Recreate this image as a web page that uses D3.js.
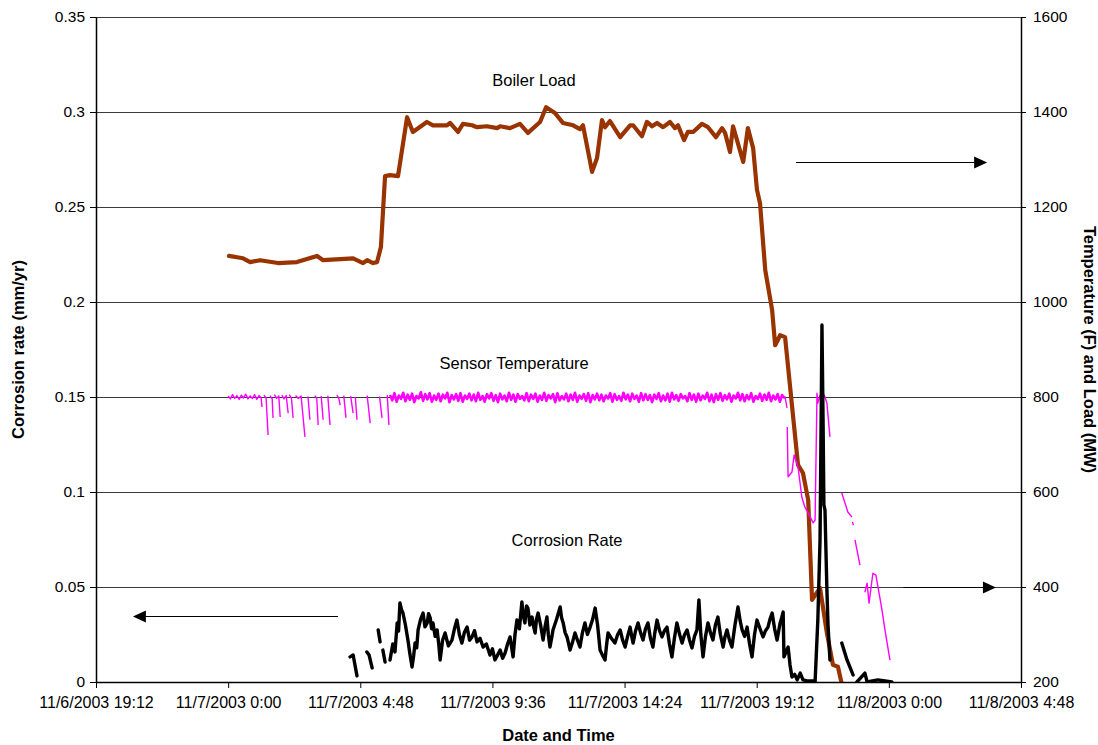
<!DOCTYPE html>
<html>
<head>
<meta charset="utf-8">
<script src="https://cdn.jsdelivr.net/npm/d3@7"></script>
<style>
  body { margin: 0; background: #fff; }
  svg { display: block; }
  text { font-family: "Liberation Sans", Arial, sans-serif; fill: #000; }
</style>
</head>
<body>
<svg id="chart" width="1098" height="745"></svg>
<script>
// All times are hours elapsed since 11/7/2003 0:00.
const xTickLabels = ["11/6/2003 19:12", "11/7/2003 0:00", "11/7/2003 4:48", "11/7/2003 9:36",
                     "11/7/2003 14:24", "11/7/2003 19:12", "11/8/2003 0:00", "11/8/2003 4:48"];
const corrosionTicks = [0, 0.05, 0.1, 0.15, 0.2, 0.25, 0.3, 0.35];
const tempLoadTicks = [200, 400, 600, 800, 1000, 1200, 1400, 1600];

// Boiler load (MW): [hour, value]
const boilerLoad = [
  [0.03,1097],[0.54,1092],[0.80,1084],[1.16,1088],[1.81,1082],[2.50,1084],[3.23,1097],[3.45,1088],
  [4.54,1092],[4.90,1082],[5.05,1088],[5.26,1082],[5.41,1084],[5.55,1116],[5.70,1265],[5.88,1267],
  [6.17,1265],[6.50,1389],[6.71,1358],[7.22,1379],[7.44,1372],[7.95,1372],[8.06,1377],[8.35,1358],
  [8.53,1375],[8.86,1372],[9.04,1368],[9.40,1370],[9.77,1366],[9.88,1370],[10.24,1366],[10.60,1375],
  [10.89,1356],[11.33,1379],[11.55,1410],[11.87,1398],[12.16,1377],[12.53,1372],[12.78,1364],[12.89,1372],
  [13.22,1274],[13.40,1303],[13.58,1383],[13.69,1368],[13.87,1381],[14.24,1347],[14.60,1372],[14.71,1372],
  [15.03,1349],[15.21,1379],[15.40,1370],[15.58,1377],[15.80,1368],[16.05,1379],[16.23,1366],[16.34,1372],
  [16.56,1341],[16.70,1358],[16.89,1358],[17.21,1375],[17.43,1368],[17.72,1347],[17.94,1366],[18.05,1356],
  [18.23,1316],[18.34,1370],[18.71,1295],[18.88,1366],[19.07,1324],[19.21,1236],[19.32,1208],[19.51,1067],
  [19.76,983],[19.87,909],[20.05,930],[20.23,926],[20.70,657],[20.88,640],[21.07,583],[21.21,373],
  [21.50,398],[21.75,303],[21.97,236],[22.15,232],[22.34,183]
];

// Corrosion rate (mm/yr): [hour, value]; null marks a gap in the record
const corrosionRate = [
  [4.43,0.0132],[4.54,0.0142],[4.68,0.0032], null,
  [5.04,0.0158],[5.12,0.0142],[5.23,0.0074], null,
  [5.45,0.0274],[5.52,0.0211], null,
  [5.62,0.0168],[5.70,0.0105], null,
  [5.88,0.0116],[5.98,0.0200],[6.06,0.0158],[6.14,0.0311],[6.19,0.0268],[6.24,0.0416],[6.30,0.0380],
  [6.35,0.0363],[6.44,0.0300],[6.53,0.0221],[6.60,0.0150],[6.68,0.0079],[6.74,0.0140],[6.79,0.0205],
  [6.85,0.0180],[6.90,0.0274],[6.99,0.0330],[7.08,0.0363],[7.15,0.0290],[7.23,0.0311],[7.28,0.0360],
  [7.34,0.0337],[7.39,0.0280],[7.44,0.0311],[7.52,0.0240],[7.59,0.0274],[7.65,0.0200],[7.70,0.0116],
  [7.79,0.0220],[7.88,0.0258],[8.00,0.0190],[8.13,0.0221],[8.22,0.0280],[8.31,0.0326],[8.40,0.0250],
  [8.49,0.0205],[8.58,0.0260],[8.68,0.0289],[8.77,0.0220],[8.86,0.0237],[8.95,0.0270],[9.04,0.0211],
  [9.15,0.0230],[9.26,0.0184],[9.38,0.0200],[9.51,0.0142],[9.60,0.0175],[9.69,0.0116],[9.78,0.0140],
  [9.88,0.0168],[9.97,0.0125],[10.06,0.0153],[10.15,0.0200],[10.24,0.0237],[10.30,0.0180],[10.35,0.0132],
  [10.42,0.0250],[10.49,0.0326],[10.58,0.0280],[10.67,0.0421],[10.72,0.0350],[10.78,0.0311],[10.84,0.0400],
  [10.89,0.0389],[10.96,0.0300],[11.04,0.0342],[11.10,0.0290],[11.15,0.0258],[11.20,0.0330],[11.26,0.0363],
  [11.35,0.0300],[11.44,0.0221],[11.51,0.0290],[11.58,0.0342],[11.63,0.0250],[11.69,0.0184],[11.75,0.0230],
  [11.80,0.0274],[11.93,0.0330],[12.06,0.0395],[12.11,0.0340],[12.17,0.0311],[12.24,0.0260],[12.31,0.0237],
  [12.37,0.0200],[12.42,0.0168],[12.51,0.0210],[12.60,0.0258],[12.69,0.0220],[12.78,0.0184],[12.87,0.0260],
  [12.96,0.0311],[13.05,0.0250],[13.15,0.0289],[13.24,0.0330],[13.33,0.0389],[13.42,0.0300],
  [13.51,0.0168],[13.60,0.0140],[13.69,0.0116],[13.75,0.0200],[13.80,0.0258],[13.92,0.0230],[14.05,0.0205],
  [14.15,0.0250],[14.24,0.0274],[14.33,0.0220],[14.42,0.0184],[14.51,0.0240],[14.60,0.0289],[14.66,0.0240],
  [14.71,0.0205],[14.80,0.0270],[14.89,0.0311],[14.98,0.0260],[15.07,0.0221],[15.16,0.0280],[15.25,0.0311],
  [15.34,0.0230],[15.43,0.0184],[15.50,0.0260],[15.58,0.0326],[15.67,0.0270],[15.76,0.0237],[15.85,0.0270],
  [15.94,0.0289],[16.03,0.0200],[16.12,0.0132],[16.21,0.0230],[16.30,0.0311],[16.40,0.0250],[16.49,0.0205],
  [16.58,0.0250],[16.67,0.0274],[16.76,0.0220],[16.85,0.0179],[16.94,0.0240],[17.03,0.0274],[17.10,0.0432],
  [17.17,0.0250],[17.25,0.0132],[17.34,0.0240],[17.43,0.0311],[17.52,0.0260],[17.61,0.0221],[17.70,0.0300],
  [17.79,0.0342],[17.88,0.0250],[17.98,0.0184],[18.05,0.0240],[18.12,0.0274],[18.21,0.0220],[18.30,0.0184],
  [18.41,0.0300],[18.52,0.0395],[18.60,0.0320],[18.67,0.0274],[18.76,0.0240],[18.85,0.0289],[18.94,0.0200],
  [19.03,0.0132],[19.12,0.0250],[19.21,0.0326],[19.32,0.0280],[19.43,0.0237],[19.52,0.0270],[19.61,0.0289],
  [19.68,0.0330],[19.76,0.0363],[19.85,0.0280],[19.94,0.0221],[20.00,0.0270],[20.05,0.0311],[20.11,0.0340],
  [20.16,0.0368],[20.19,0.0132],[20.27,0.0160],[20.34,0.0184],[20.41,0.0090],[20.48,0.0026],[20.58,0.0040],
  [20.67,0.0011],[20.78,0.0047],[20.88,0.0011],[21.07,0.0005],[21.25,0.0005],[21.32,0],
  [21.42,0.0326],[21.50,0.0747],[21.54,0.1379],[21.57,0.1879],[21.61,0.1379],[21.64,0.0932],[21.68,0.0905],
  [21.71,0.0721],[21.75,0.0484],[21.79,0.0300],[21.86,0.0116], null,
  [22.29,0.0205],[22.48,0.0116],[22.70,0.0037], null,
  [22.84,0],[23.13,0.0047],[23.21,0],[23.60,0.0011],[23.86,0.0005],[24.11,0]
];

// Sensor temperature (F), start of record with dropouts: [hour, value]
const sensorEarly = [
  [0.00,802],[0.08,796],[0.16,805],[0.24,797],[0.32,803],[0.40,795],[0.48,804],[0.56,798],[0.64,806],
  [0.72,796],[0.80,802],[0.88,797],[0.96,805],[1.04,795],[1.12,803],[1.20,798],[1.23,779], null,
  [1.30,804],[1.38,797],[1.45,720], null,
  [1.52,803],[1.60,796],[1.63,756], null,
  [1.68,805],[1.76,797],[1.84,802],[1.89,758], null,
  [1.95,804],[2.03,796],[2.11,803],[2.18,766], null,
  [2.22,805],[2.30,797],[2.36,756], null,
  [2.45,803],[2.55,797],[2.65,802],[2.79,716], null,
  [2.90,801],[2.97,752], null,
  [3.15,803],[3.22,797],[3.27,741], null,
  [3.38,802],[3.45,752], null,
  [3.62,803],[3.70,741], null,
  [3.95,804],[4.02,797],[4.07,783], null,
  [4.20,803],[4.28,756], null,
  [4.45,802],[4.54,766], null,
  [4.62,800],[4.68,752], null,
  [5.05,803],[5.16,745], null,
  [5.50,801],[5.59,756], null,
  [5.78,804],[5.84,741], null
];

// Sensor temperature (F), steady record logged every 0.08 h from 5.88 h
const sensorSteadyStart = 5.88;
const sensorSteadyStep = 0.08;
const sensorSteady = [
  804,793,808,790,803,796,809,791,805,794,807,789,802,797,810,792,806,795,808,790,
  803,794,807,791,805,797,809,789,804,795,806,792,808,790,803,796,807,793,805,791,
  809,794,802,790,806,797,808,792,804,789,807,795,803,791,809,794,805,790,806,796,
  802,793,808,791,805,796,807,790,803,794,809,792,804,797,806,789,808,793,802,795,
  807,791,805,794,809,790,803,796,806,792,808,789,804,795,807,793,805,791,803,797,
  808,790,806,794,802,792,809,795,805,791,807,796,803,790,808,793,806,794,804,789,
  805,796,808,791,803,793,807,790,809,795,804,792,806,797,802,791,808,794,805,790,
  807,793,803,796,809,791,805,789,806,794,808,792,804,795,807,790,803,797,809,793,
  806,791,804,795,808,790,802,796,807,792,805,794,809,791,803,795,806,790,804,798
];

// Sensor temperature (F) during the shutdown: [hour, value]
const sensorShutdown = [
  [20.23,800],[20.30,777], null,
  [20.31,737],[20.34,632],[20.48,642],[20.56,678],[20.70,653],[20.84,589],[20.95,568],[21.07,556],
  [21.25,535],[21.32,541],[21.39,808],[21.42,787],[21.50,804],[21.57,795],[21.63,806],[21.68,800],
  [21.75,787],[21.86,716], null,
  [22.29,598],[22.51,558],[22.66,547], null,
  [22.68,537],[22.71,530], null,
  [22.77,499],[22.95,446], null,
  [23.13,389],[23.21,408],[23.28,366],[23.42,429],[23.53,425],[23.75,352],[23.86,309],[24.04,246]
];

const baseTime = new Date(2003, 10, 7, 0, 0);
const parseTick = d3.timeParse("%m/%d/%Y %H:%M");
const atHour = h => new Date(baseTime.getTime() + h * 3600e3);
const toPoint = d => d ? { t: atHour(d[0]), v: d[1] } : null;

const sensorSteadyPts = sensorSteady.map((v, i) => [sensorSteadyStart + i * sensorSteadyStep, v]);
const sensorAll = [...sensorEarly, ...sensorSteadyPts, ...sensorShutdown].map(toPoint);

const svg = d3.select("#chart");
const margin = { left: 96, right: 77, top: 17, bottom: 63 };
const W = 1098, H = 745;
const x0 = margin.left, x1 = W - margin.right, y0 = H - margin.bottom, y1 = margin.top;

const xTicks = xTickLabels.map(parseTick);
const x = d3.scaleTime().domain([xTicks[0], xTicks[xTicks.length - 1]]).range([x0, x1]);
const yL = d3.scaleLinear().domain([0, 0.35]).range([y0, y1]);
const yR = d3.scaleLinear().domain([200, 1600]).range([y0, y1]);

svg.append("defs").append("clipPath").attr("id", "plot")
  .append("rect").attr("x", x0).attr("y", y1 - 5).attr("width", x1 - x0).attr("height", y0 - y1 + 5);

// horizontal gridlines
svg.append("g").selectAll("line").data(corrosionTicks).join("line")
  .attr("x1", x0).attr("x2", x1)
  .attr("y1", d => Math.round(yL(d)) + 0.5).attr("y2", d => Math.round(yL(d)) + 0.5)
  .attr("stroke", "#3a3a3a").attr("stroke-width", 1);

const plot = svg.append("g").attr("clip-path", "url(#plot)");

const lineL = d3.line().defined(d => d).x(d => x(d.t)).y(d => yL(d.v));
const lineR = d3.line().defined(d => d).x(d => x(d.t)).y(d => yR(d.v));

plot.append("path").datum(boilerLoad.map(toPoint))
  .attr("d", lineR).attr("fill", "none").attr("stroke", "#993300")
  .attr("stroke-width", 4.2).attr("stroke-linejoin", "round").attr("stroke-linecap", "round");

// temperature: thin trace for the whole record, heavier where the sensor chatters at 800 F
plot.append("path").datum(sensorAll)
  .attr("d", lineR).attr("fill", "none").attr("stroke", "#ff00ff")
  .attr("stroke-width", 1.4).attr("stroke-linejoin", "round");
plot.append("path").datum(sensorSteadyPts.map(toPoint))
  .attr("d", lineR).attr("fill", "none").attr("stroke", "#ff00ff")
  .attr("stroke-width", 2.6).attr("stroke-linejoin", "round");

plot.append("path").datum(corrosionRate.map(toPoint))
  .attr("d", lineL).attr("fill", "none").attr("stroke", "#000")
  .attr("stroke-width", 3.4).attr("stroke-linejoin", "round").attr("stroke-linecap", "round");

// axes
const tickFont = size => g => g.selectAll("text").style("font-size", size)
  .style("font-family", '"Liberation Sans", Arial, sans-serif');
const axisStyle = g => { g.select(".domain").attr("stroke", "#000").attr("stroke-width", 1.5);
                         g.selectAll(".tick line").attr("stroke", "#000"); };

svg.append("g").attr("transform", `translate(${x0},0)`)
  .call(d3.axisLeft(yL).tickValues(corrosionTicks).tickFormat(d => String(d))
        .tickSize(6).tickSizeOuter(0).tickPadding(5))
  .call(tickFont("15.5px")).call(axisStyle);

svg.append("g").attr("transform", `translate(${x1},0)`)
  .call(d3.axisRight(yR).tickValues(tempLoadTicks).tickFormat(d => String(d))
        .tickSize(5).tickSizeOuter(0).tickPadding(7))
  .call(tickFont("15.5px")).call(axisStyle);

svg.append("g").attr("transform", `translate(0,${y0})`)
  .call(d3.axisBottom(x).tickValues(xTicks).tickFormat((d, i) => xTickLabels[i])
        .tickSize(6).tickSizeOuter(0).tickPadding(9))
  .call(tickFont("16px")).call(axisStyle);

// axis titles
svg.append("text").attr("x", (x0 + x1) / 2).attr("y", 741).attr("text-anchor", "middle")
  .style("font-size", "16.5px").style("font-weight", "bold").text("Date and Time");
svg.append("text").attr("transform", `translate(24,${(y0 + y1) / 2}) rotate(-90)`)
  .attr("text-anchor", "middle").style("font-size", "16.5px").style("font-weight", "bold")
  .text("Corrosion rate (mm/yr)");
svg.append("text").attr("transform", `translate(1084,${(y0 + y1) / 2}) rotate(90)`)
  .attr("text-anchor", "middle").style("font-size", "16.5px").style("font-weight", "bold")
  .text("Temperature (F) and Load (MW)");

// series labels
const seriesLabels = [
  { text: "Boiler Load", h: 11.11, v: 0.3137 },
  { text: "Sensor Temperature", h: 10.39, v: 0.1647 },
  { text: "Corrosion Rate", h: 12.31, v: 0.0716 }
];
svg.append("g").selectAll("text").data(seriesLabels).join("text")
  .attr("x", d => x(atHour(d.h))).attr("y", d => yL(d.v))
  .attr("text-anchor", "middle").style("font-size", "16.5px").text(d => d.text);

// axis-pointer arrows
const arrows = [
  { from: [20.63, 1295], to: [27.57, 1295], axis: "R" },
  { from: [24.53, 400], to: [27.89, 400], axis: "R" },
  { from: [3.99, 0.0347], to: [-3.46, 0.0347], axis: "L" }
];
const ag = svg.append("g");
arrows.forEach(a => {
  const ys = a.axis === "R" ? yR : yL;
  const xa = x(atHour(a.from[0])), xb = x(atHour(a.to[0])), yy = Math.round(ys(a.from[1])) + 0.5;
  const dir = Math.sign(xb - xa);
  ag.append("line").attr("x1", xa).attr("x2", xb - dir * 10).attr("y1", yy).attr("y2", yy)
    .attr("stroke", "#000").attr("stroke-width", 1.2);
  ag.append("path")
    .attr("d", `M${xb},${yy} L${xb - dir * 13},${yy - 6} L${xb - dir * 13},${yy + 6} Z`)
    .attr("fill", "#000");
});
</script>
</body>
</html>
